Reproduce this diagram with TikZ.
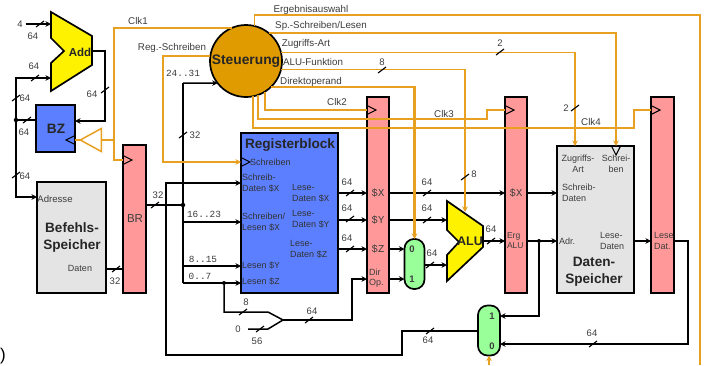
\documentclass[tikz,border=0pt]{standalone}
\usepackage{fontspec}
\setmainfont{Liberation Sans}
\setmonofont{Liberation Mono}
\usetikzlibrary{positioning,arrows.meta,shapes.geometric}
\definecolor{ctrl}{HTML}{E8A020}
\definecolor{ctrlfill}{HTML}{E09B00}
\definecolor{pipefill}{HTML}{FF9999}
\definecolor{regfill}{HTML}{5B7FFF}
\definecolor{memfill}{HTML}{E4E4E4}
\definecolor{muxfill}{HTML}{99FF99}
\definecolor{txt}{HTML}{3C3C3C}
\newcommand{\rn}[1]{{\ttfamily\$#1}}

\begin{document}
\begin{tikzpicture}[
  x=1pt, y=-1pt,
  every node/.style={font=\fontsize{9}{10.5}\selectfont, text=txt, inner sep=0pt, outer sep=0pt, align=center},
  box/.style={draw=black, line width=1.7pt, anchor=north west},
  pipe/.style={box, fill=pipefill, minimum height=196pt, minimum width=22pt},
  mux/.style={draw=black, line width=1.7pt, fill=muxfill, rounded corners=9.5pt, minimum width=20pt, minimum height=50pt},
  title/.style={font=\fontsize{13.6}{17}\selectfont\bfseries, text=black!85},
  lbl/.style={font=\fontsize{9}{10.5}\selectfont},
  pinl/.style={lbl, align=left, anchor=west},
  sname/.style={font=\fontsize{9.8}{11}\selectfont},
  reglbl/.style={font=\ttfamily\fontsize{10.5}{11}\selectfont},
  muxlbl/.style={font=\bfseries\fontsize{9.5}{10}\selectfont},
  bit/.style={font=\ttfamily\fontsize{9.4}{10}\selectfont},
  sig/.style={draw=ctrl, line width=1.5pt},
  sigb/.style={draw=ctrl, line width=2.2pt},
  bus/.style={line width=1.5pt},
  wbus/.style={line width=2.2pt},
  arr/.style={-{Stealth[length=5.5pt,width=5.5pt]}},
  dot/.style={circle, fill=black, minimum size=4.5pt},
  slash/.pic={\draw[line width=1.1pt] (-4,3) -- (4,-3);},
  clk/.pic={\draw[line width=1.1pt, fill=none] (0,-4.5) -- (9,0) -- (0,4.5);}
]
\useasboundingbox (0,0) rectangle (708,365);
% main blocks
\node[box, fill=memfill, minimum width=69pt, minimum height=111pt] (befehl) at (37,182) {};
\node[box, fill=regfill, minimum width=39pt, minimum height=47pt] (bz) at (36,105) {};
\node[pipe, minimum height=148pt, minimum width=23pt, right=17pt of befehl.south east, anchor=south west] (br) {};
\node[box, fill=regfill, minimum width=97pt, minimum height=160pt, right=95pt of br.south east, anchor=south west] (rblock) {};
\node[pipe, right=29pt of rblock.south east, anchor=south west] (idex) {};
\node[pipe, right=116pt of idex.south east, anchor=south west] (exmem) {};
\node[box, fill=memfill, minimum width=77pt, minimum height=147pt, right=30pt of exmem.south east, anchor=south west] (datamem) {};
\node[pipe, minimum width=23pt, right=17pt of datamem.south east, anchor=south west] (memwb) {};
\node[circle, draw=black, line width=1.7pt, fill=ctrlfill, minimum size=72pt, font=\fontsize{13.8}{15}\selectfont\bfseries, text=black!85] (steuerung) at (246,61) {Steuerung};
\node[mux] (muxa) at (414.5,264) {};
\node[mux, minimum width=22pt] (muxb) at (489,330.5) {};
\node[draw=ctrl, line width=1.5pt, isosceles triangle, isosceles triangle stretches, shape border rotate=180, minimum width=23pt, minimum height=21pt] (buf) at (94.5,140) {};
\draw[line width=1.7pt, fill=yellow] (51,12) -- (92,36) -- (92,65) -- (51,91) -- (51,63) -- (64,51) -- (51,38) -- cycle;
\draw[line width=1.7pt, fill=yellow] (447,201) -- (483,226) -- (483,247) -- (447,281) -- (447,255) -- (459,242) -- (447,230) -- cycle;
\node[title, font=\fontsize{11.5}{14}\selectfont\bfseries] (add) at (80,52) {Add};
\node[title, font=\fontsize{12.5}{14}\selectfont\bfseries] (alu) at (470,241) {ALU};
% ports
\coordinate (yX) at (0,193);
\coordinate (yY) at (0,220);
\coordinate (yZ) at (0,249);
\coordinate (yDir) at (0,279);
\coordinate (yRes) at (0,241);
\coordinate (yAdr) at (0,197);
\coordinate (yDat) at (0,269);
\coordinate (yBz) at (0,121);
\coordinate (yRa) at (0,222);
\coordinate (yRb) at (0,266);
\coordinate (yMa) at (0,316);
\coordinate (yMb) at (0,344);
\coordinate (yMo) at (0,331);
\coordinate (addA) at (51,24);
\coordinate (addB) at (51,78);
\coordinate (addOut) at (92,51);
\coordinate (addTurn) at (105,51);
\coordinate (aluA) at (447,220);
\coordinate (aluB) at (447,265);
\coordinate (aluOut) at (483,241);
\coordinate (aluF) at (465,212);
\coordinate (clkbus) at (114,140);
\coordinate (brclk) at (123,160);
\coordinate (rclk) at (241,162);
\coordinate (regTurn) at (163,162);
\coordinate (exclk) at (367,110);
\coordinate (memclk) at (505,110);
\coordinate (wbclk) at (651,110);
\coordinate (clkcTurn) at (487,119);
\coordinate (clkdTurn) at (634,128);
\coordinate (memZ) at (575,146);
\coordinate (memS) at (616,146);
\coordinate (irTop) at (183,83);
\coordinate (irBot) at (183,283);
\coordinate (lowA) at (224,312);
\coordinate (lowB) at (268,312);
\coordinate (zero) at (248,329);
\coordinate (zeroB) at (268,329);
\coordinate (merge) at (283,320);
\coordinate (wbTop) at (166,183);
\coordinate (wbBot) at (166,355);
\coordinate (wbUp) at (402,355);
\coordinate (wbTurn) at (688,241);
\coordinate (dirTurn) at (352,320);
\coordinate (ergTurn) at (700,15);
\coordinate (ergEnd) at (700,365);
\coordinate (selIn) at (489,365);
% dots
\node[dot] (jpc) at (16,120) {};
\node[dot] (jir) at (183,205) {};
\node[dot, minimum size=4pt] (jlow) at (224,283) {};
\node[dot, minimum size=4pt] (jres) at (539,241) {};
% data paths
\node[lbl, font=\fontsize{9.5}{10}\selectfont] (four) at (20,24) {4};
\draw[bus, arr] (four.east) ++(3,0) -- (addA);
\draw[bus, arr] (jpc) |- (addB);
\draw[bus, arr] (jpc) |- (befehl.west |- yAdr);
\draw[bus] (bz.west |- jpc) -- (jpc);
\draw[bus, arr] (addOut) -- (addTurn) |- (bz.east |- yBz);
\draw[bus] (befehl.east |- yDat) -- (br.west |- yDat);
\draw[wbus] (br.east |- jir) -- (jir);
\draw[bus, arr] (irTop) -- (steuerung.218);
\draw[bus] (irTop) -- (irBot);
\draw[wbus, arr] (wbTop -| jir) -- (rblock.west |- wbTop);
\draw[wbus] (wbTop -| jir) -- (wbTop) -- (wbBot) -- (wbUp) |- (muxb.west |- yMo);
\draw[bus, arr] (jir |- yRa) -- (rblock.west |- yRa);
\draw[bus, arr] (jir |- yRb) -- (rblock.west |- yRb);
\draw[bus, arr] (irBot) -- (rblock.west |- irBot);
\draw[bus] (jlow) -- (lowA) -- (lowB) -- (merge);
\draw[bus] (zero) -- (zeroB) -- (merge);
\draw[bus, arr] (merge) -- (dirTurn) |- (idex.west |- yDir);
\foreach \p in {yX,yY,yZ} \draw[bus, arr] (rblock.east |- \p) -- (idex.west |- \p);
\draw[bus, arr] (idex.east |- yX) -- (exmem.west |- yX);
\draw[bus, arr] (exmem.east |- yX) -- (datamem.west |- yX);
\draw[bus, arr] (idex.east |- yY) -- (aluA);
\draw[bus, arr] (idex.east |- yZ) -- (muxa.west |- yZ);
\draw[bus, arr] (idex.east |- yDir) -- (muxa.west |- yDir);
\draw[wbus, arr] (muxa.east |- aluB) -- (aluB);
\draw[bus, arr] (aluOut) -- (exmem.west |- yRes);
\draw[bus, arr] (exmem.east |- yRes) -- (datamem.west |- yRes);
\draw[bus, arr] (jres) |- (muxb.east |- yMa);
\draw[wbus, arr] (datamem.east |- yRes) -- (memwb.west |- yRes);
\draw[bus, arr] (memwb.east |- yRes) -- (wbTurn) |- (muxb.east |- yMb);
% control lines
\draw[sig] (steuerung.113.6) -| (clkbus);
\draw[sig] (bz.east |- clkbus) -- (buf.apex);
\draw[sig] (buf.east) -- (clkbus);
\draw[sigb] (clkbus) |- (brclk);
\draw[sig, arr] (steuerung.172) -| (regTurn) -- (rclk);
\draw[sig] (steuerung.76) |- (ergTurn) -- (ergEnd);
\draw[sig, arr] (selIn) -- (muxb.south);
\draw[sigb, arr] (steuerung.51) -| (memS);
\draw[sig, arr] (steuerung.14.5) -| (memZ);
\draw[sig, arr] (steuerung.-14.5) -| (aluF);
\draw[sigb, arr] (steuerung.-46) -| (muxa.north);
\draw[sig] (steuerung.-58) |- (exclk);
\draw[sigb] (steuerung.-70) |- (clkcTurn) |- (memclk);
\draw[sigb] (steuerung.-79) |- (clkdTurn) |- (wbclk);
\foreach \p in {brclk,rclk,exclk,memclk,wbclk} \pic at (\p) {clk};
\pic[rotate=180] at (bz.east |- clkbus) {clk};
\pic[rotate=-90] at (memS) {clk};
% bus widths
\foreach \x/\y in {40/24,35/78,16/98,27/120,16/175,105/90,116/269,155/205,183/135,350/193,350/219,350/249,
  427/193,427/220,430/265,491/241,309/320,243/312,260/329,430/331,593/344,382/70,465/177,500/52,575/108}
  \pic at (\x,\y) {slash};
\foreach \x/\y/\t [count=\i] in {33/36/64,34/66/64,25/98/64,24/132/64,25/176/64,92/94/64,115/281/32,158/195/32,195/135/32,
  347/182/64,347/208/64,347/238/64,427/182/64,427/208/64,432/253/64,491/229/64,312/311/64,246/302/8,238/329/0,257/341/56,
  428/340/64,592/333/64,382/62/8,474/174/8,500/43/2,566/108/2}
  \node[lbl, font=\fontsize{9.5}{10}\selectfont] (w\i) at (\x,\y) {\t};
% signal names
\node[sname] (lclka) at (138,21) {Clk1};
\node[sname] (lreg) at (172,48) {Reg.-Schreiben};
\node[sname] (lerg) at (311,10) {Ergebnisauswahl};
\node[sname] (lsp) at (321,26) {Sp.-Schreiben/Lesen};
\node[sname] (lzug) at (306,44) {Zugriffs-Art};
\node[sname] (lalu) at (313,62) {ALU-Funktion};
\node[sname] (ldir) at (311,82) {Direktoperand};
\node[sname] (lclkb) at (337,102) {Clk2};
\node[sname] (lclkc) at (444,114) {Clk3};
\node[sname] (lclkd) at (591,122) {Clk4};
\node[bit] (lira) at (183,73) {24..31};
\node[bit] (lirb) at (204,214) {16..23};
\node[bit] (lirc) at (203,259) {8..15};
\node[bit] (lird) at (200,276) {0..7};
% block texts
\node[title] (tbz) at (56,129) {BZ};
\node[lbl, font=\fontsize{9.6}{10.5}\selectfont] (tadr) at (55,199) {Adresse};
\node[title] (tbef) at (72,237) {Befehls-\\Speicher};
\node[lbl] (tdat) at (80,268) {Daten};
\node[lbl, font=\fontsize{11.5}{12}\selectfont] (tbr) at (135,219) {BR};
\node[title] (trb) at (290,145) {Registerblock};
\node[pinl, text=black!80] (trs) at (250,162) {Schreiben};
\node[pinl, text=black!80] (trd) at (242,183) {Schreib-\\Daten \rn{X}};
\node[pinl, text=black!80] (trl) at (242,222) {Schreiben/\\Lesen \rn{X}};
\node[pinl, text=black!80] (tly) at (242,266) {Lesen \rn{Y}};
\node[pinl, text=black!80] (tlz) at (242,282) {Lesen \rn{Z}};
\node[pinl, text=black!80] (tox) at (292,193) {Lese-\\Daten \rn{X}};
\node[pinl, text=black!80] (toy) at (292,219) {Lese-\\Daten \rn{Y}};
\node[pinl, text=black!80] (toz) at (290,249) {Lese-\\Daten \rn{Z}};
\node[reglbl] (tix) at (378,193) {\$X};
\node[reglbl] (tiy) at (378,220) {\$Y};
\node[reglbl] (tiz) at (378,249) {\$Z};
\node[pinl] (tio) at (369,278) {Dir\\Op.};
\node[reglbl] (tex) at (516,193) {\$X};
\node[pinl, font=\fontsize{8.5}{10}\selectfont] (tea) at (507,241) {Erg\\ALU};
\node[lbl] (tmz) at (578,164) {Zugriffs-\\Art};
\node[lbl] (tms) at (616,164) {Schrei-\\ben};
\node[pinl] (tmd) at (562,193) {Schreib-\\Daten};
\node[lbl] (tma) at (567,241) {Adr.};
\node[pinl] (tml) at (600,241) {Lese-\\Daten};
\node[title] (tmm) at (594,272) {Daten-\\Speicher};
\node[pinl] (twb) at (654,241) {Lese\\Dat.};
\node[muxlbl] (tma0) at (412,249) {0};
\node[muxlbl] (tma1) at (412,279) {1};
\node[muxlbl] (tmb1) at (492,316) {1};
\node[muxlbl] (tmb0) at (492,346) {0};
\node[font=\fontsize{17}{18}\selectfont, text=black] (paren) at (3,356) {)};
\end{tikzpicture}
\end{document}
